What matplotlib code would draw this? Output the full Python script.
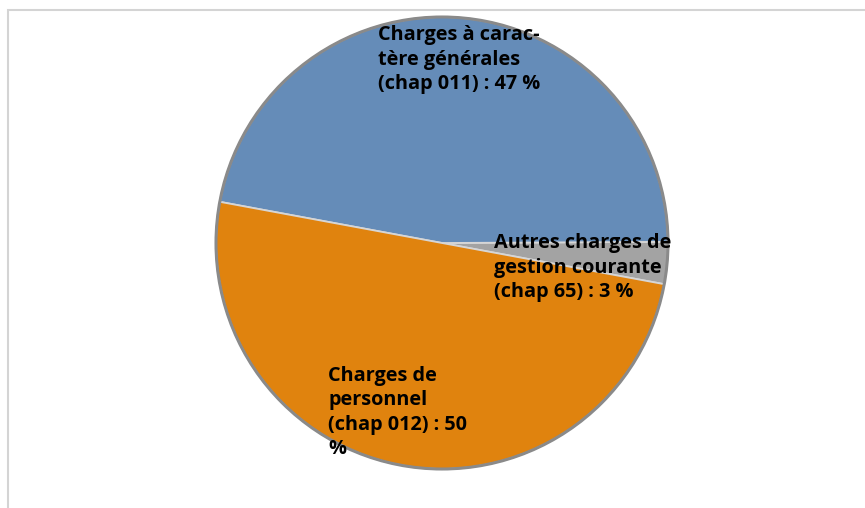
import matplotlib
matplotlib.use('Agg')
import matplotlib.pyplot as plt
from matplotlib.patches import Rectangle, Circle

# données du graphique
categories = ['Autres charges de gestion courante (chap 65)',
              'Charges à caractère générales (chap 011)',
              'Charges de personnel (chap 012)']
parts = [3, 47, 50]
colors = ['#a3a3a3', '#658cb8', '#e0830e']
label_lines = [
    ['Autres charges de', 'gestion courante', '(chap 65) : 3 %'],
    ['Charges à carac-', 'tère générales', '(chap 011) : 47 %'],
    ['Charges de', 'personnel', '(chap 012) : 50', '%'],
]

W, H = 865, 508
cx, cy, r = 442, 243, 226  # centre et rayon du camembert en pixels

fig = plt.figure(figsize=(W / 100, H / 100), dpi=100)
fig.patches.append(Rectangle((8 / W, -0.1), 1.2, 1.1 - 10 / H, transform=fig.transFigure,
                             facecolor='white', edgecolor='#d4d4d4', linewidth=1.5,
                             zorder=-10))

ax = fig.add_axes([0, 0, 1, 1])
ax.patch.set_alpha(0)

ax.pie(parts, colors=colors, startangle=-10.5, counterclock=True, radius=1,
       wedgeprops=dict(edgecolor='#d6d6d6', linewidth=1.3))
ax.add_patch(Circle((0, 0), 1.0, fill=False, edgecolor='#8a8a8a', linewidth=2.2))
ax.set_aspect('auto')
ax.set_xlim(-cx / r, (W - cx) / r)
ax.set_ylim(-(H - cy) / r, cy / r)
ax.axis('off')


def px(x, y):
    return (x - cx) / r, (cy - y) / r


# position (coin haut gauche) de chaque étiquette
label_pos = [(494, 233), (378, 25), (328, 366)]
for lines, (x, y) in zip(label_lines, label_pos):
    for i, line in enumerate(lines):
        tx, ty = px(x, y + i * 24.5)
        ax.text(tx, ty, line, ha='left', va='top', fontsize=14.3, fontweight='bold',
                family=['Open Sans', 'DejaVu Sans'], color='black')

fig.savefig('out.png', dpi=100)
